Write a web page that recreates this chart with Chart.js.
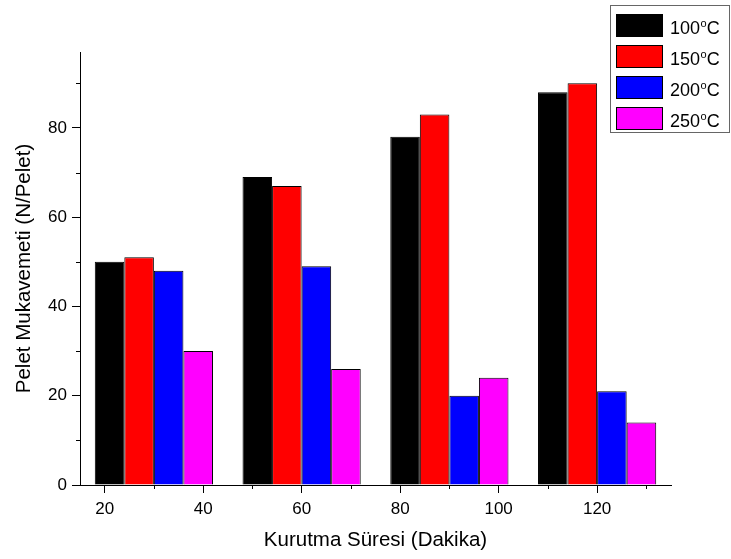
<!DOCTYPE html>
<html>
<head>
<meta charset="utf-8">
<script src="https://cdn.jsdelivr.net/npm/chart.js@4"></script>
<style>
    body { margin: 0; background: #fff; }
    #wrap { width: 731px; height: 559px; }
</style>
</head>
<body>
<div id="wrap"><canvas id="peletChart"></canvas></div>
<script>
const dryingTimes = [30, 60, 90, 120];
const tempLabels = ["100°C", "150°C", "200°C", "250°C"];
const strength100 = [50, 69, 78, 88];
const strength150 = [51, 67, 83, 90];
const strength200 = [48, 49, 20, 21];
const strength250 = [30, 26, 24, 14];
const xTicks = [20, 40, 60, 80, 100, 120];
const xMinorTicks = [30, 50, 70, 90, 110, 130];
const yTicks = [0, 20, 40, 60, 80];
const yMinorTicks = [10, 30, 50, 70, 90];
const barColors = ["#000000", "#ff0000", "#0000ff", "#ff00ff"];

const FONT = "Arial, 'Liberation Sans', sans-serif";

// short unlabelled ticks between the numbered ones
const minorTicks = {
    id: "minorTicks",
    afterDraw(chart) {
        const { ctx, chartArea, scales } = chart;
        ctx.save();
        ctx.strokeStyle = "#000";
        ctx.lineWidth = 1;
        ctx.beginPath();
        xMinorTicks.forEach(v => {
            const x = Math.round(scales.x.getPixelForValue(v)) + 0.5;
            ctx.moveTo(x, chartArea.bottom);
            ctx.lineTo(x, chartArea.bottom + 4);
        });
        yMinorTicks.forEach(v => {
            const y = Math.round(scales.y.getPixelForValue(v)) + 0.5;
            ctx.moveTo(chartArea.left - 4, y);
            ctx.lineTo(chartArea.left, y);
        });
        ctx.stroke();
        ctx.restore();
    }
};

// boxed legend in the top right corner, degree shown as a raised "o"
const boxLegend = {
    id: "boxLegend",
    afterDraw(chart) {
        const ctx = chart.ctx;
        ctx.save();
        ctx.strokeStyle = "#666";
        ctx.lineWidth = 1;
        ctx.strokeRect(610.5, 5.5, 119, 127);
        chart.data.datasets.forEach((ds, i) => {
            const top = 14 + i * 31;
            ctx.fillStyle = ds.backgroundColor;
            ctx.fillRect(616, top, 47, 23);
            ctx.strokeStyle = "#000";
            ctx.strokeRect(616.5, top + 0.5, 46, 22);

            const [num, unit] = ds.label.split("°");
            const base = top + 20;
            ctx.fillStyle = "#000";
            ctx.textBaseline = "alphabetic";
            ctx.font = `18px ${FONT}`;
            ctx.fillText(num, 670, base);
            let x = 670 + ctx.measureText(num).width + 0.5;
            ctx.font = `11px ${FONT}`;
            ctx.fillText("o", x, base - 7.5);
            x += ctx.measureText("o").width;
            ctx.font = `18px ${FONT}`;
            ctx.fillText(unit, x, base);
        });
        ctx.restore();
    }
};

const seriesValues = [strength100, strength150, strength200, strength250];

new Chart(document.getElementById("peletChart"), {
    type: "bar",
    data: {
        datasets: seriesValues.map((vals, i) => ({
            label: tempLabels[i],
            data: dryingTimes.map((t, j) => ({ x: t, y: vals[j] })),
            backgroundColor: barColors[i],
            borderColor: "#000",
            borderWidth: 1,
            categoryPercentage: 1.2,
            barPercentage: 1.0
        }))
    },
    options: {
        responsive: true,
        maintainAspectRatio: false,
        animation: false,
        layout: { padding: { top: 52, right: 60, left: 0, bottom: 0 } },
        plugins: {
            legend: { display: false },
            tooltip: { enabled: false }
        },
        scales: {
            x: {
                type: "linear",
                min: 15,
                max: 135,
                offset: false,
                grid: { drawOnChartArea: false, offset: false, color: "#000", tickLength: 8 },
                border: { color: "#000", width: 1 },
                ticks: { color: "#000", font: { family: FONT, size: 17 }, padding: 6, maxRotation: 0 },
                afterBuildTicks: scale => { scale.ticks = xTicks.map(v => ({ value: v })); },
                afterFit: scale => { scale.height = 74; },
                title: {
                    display: true,
                    text: "Kurutma Süresi (Dakika)",
                    color: "#000",
                    font: { family: FONT, size: 20.5 },
                    padding: { top: 0, bottom: 6 }
                }
            },
            y: {
                min: 0,
                max: 97,
                grid: { drawOnChartArea: false, color: "#000", tickLength: 8 },
                border: { color: "#000", width: 1 },
                ticks: { color: "#000", font: { family: FONT, size: 17 }, padding: 5 },
                afterBuildTicks: scale => { scale.ticks = yTicks.map(v => ({ value: v })); },
                afterFit: scale => { scale.width = 80; },
                title: {
                    display: true,
                    text: "Pelet Mukavemeti (N/Pelet)",
                    color: "#000",
                    font: { family: FONT, size: 20.5 },
                    padding: { top: 12, bottom: 0 }
                }
            }
        }
    },
    plugins: [minorTicks, boxLegend]
});
</script>
</body>
</html>
